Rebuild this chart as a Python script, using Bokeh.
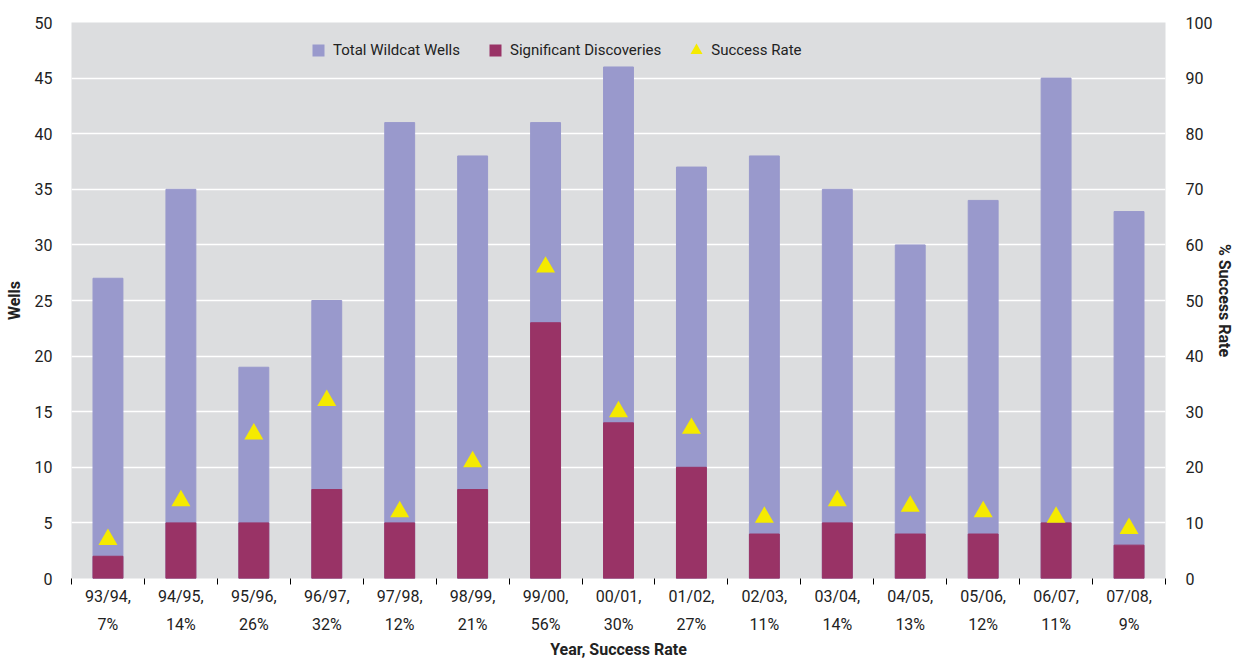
from bokeh.plotting import figure
from bokeh.models import Range1d, LinearAxis, FixedTicker, ColumnDataSource, Legend, LegendItem
from bokeh.embed import file_html
from bokeh.resources import INLINE

years = ["93/94", "94/95", "95/96", "96/97", "97/98", "98/99", "99/00", "00/01",
         "01/02", "02/03", "03/04", "04/05", "05/06", "06/07", "07/08"]
rate_labels = ["7%", "14%", "26%", "32%", "12%", "21%", "56%", "30%",
               "27%", "11%", "14%", "13%", "12%", "11%", "9%"]
total_wells = [27, 35, 19, 25, 41, 38, 41, 46, 37, 38, 35, 30, 34, 45, 33]
discoveries = [2, 5, 5, 8, 5, 8, 23, 14, 10, 4, 5, 4, 4, 5, 3]
success_rate = [7, 14, 26, 32, 12, 21, 56, 30, 27, 11, 14, 13, 12, 11, 9]

FONT = "Roboto"
C_TOTAL = "#9999CC"
C_DISC = "#993366"
C_RATE = "#F5EA00"
C_TEXT = "#222222"

xs = [i + 0.5 for i in range(len(years))]
src = ColumnDataSource(dict(x=xs, total=total_wells, disc=discoveries,
                            rate_y=[r / 2 for r in success_rate]))

p = figure(width=1237, height=662, output_backend="svg", toolbar_location=None,
           x_range=Range1d(0, len(years)), y_range=Range1d(0, 50))
p.min_border_left = 71
p.min_border_right = 72
p.min_border_top = 22
p.min_border_bottom = 82
p.background_fill_color = "#DCDDDF"
p.outline_line_color = None
p.extra_y_ranges = {"rate": Range1d(0, 100)}

p.vbar(x="x", top="total", width=0.41, source=src, color=C_TOTAL)
p.vbar(x="x", top="disc", width=0.41, source=src, color=C_DISC)
p.scatter(x="x", y="rate_y", source=src, marker="triangle", size=19,
          color=C_RATE, line_color=None)

# legend-only renderers (a single NaN point) so legend glyphs are sized like the reference
nan = float("nan")
l1 = p.scatter(x=[nan], y=[nan], marker="square", color=C_TOTAL, line_color=None)
l2 = p.scatter(x=[nan], y=[nan], marker="square", color=C_DISC, line_color=None)
l3 = p.scatter(x=[nan], y=[nan], marker="triangle", color=C_RATE, line_color=None)

p.xgrid.grid_line_color = None
p.ygrid.grid_line_color = "white"
p.ygrid.grid_line_width = 1.5
p.ygrid.ticker = FixedTicker(ticks=list(range(0, 51, 5)))

xa = p.xaxis[0]
xa.ticker = FixedTicker(ticks=xs, minor_ticks=list(range(0, len(years) + 1)))
xa.major_label_overrides = {x: f"{y},\n{r}" for x, y, r in zip(xs, years, rate_labels)}
xa.major_tick_line_color = None
xa.minor_tick_line_color = "black"
xa.minor_tick_out = 6
xa.minor_tick_in = 0
xa.axis_line_color = None
xa.major_label_text_font = FONT
xa.major_label_text_font_size = "16px"
xa.major_label_text_line_height = 1.5
xa.major_label_text_color = C_TEXT
xa.major_label_standoff = 2
xa.axis_label = "Year, Success Rate"
xa.axis_label_text_font = FONT
xa.axis_label_text_font_style = "bold"
xa.axis_label_text_font_size = "16px"
xa.axis_label_text_color = C_TEXT
xa.axis_label_standoff = 3

ya = p.yaxis[0]
ya.ticker = FixedTicker(ticks=list(range(0, 51, 5)))
ya.axis_line_color = None
ya.major_tick_line_color = None
ya.minor_tick_line_color = None
ya.major_label_text_font = FONT
ya.major_label_text_font_size = "16px"
ya.major_label_text_color = C_TEXT
ya.major_label_standoff = 13
ya.axis_label = "Wells"
ya.axis_label_text_font = FONT
ya.axis_label_text_font_style = "bold"
ya.axis_label_text_font_size = "16px"
ya.axis_label_text_color = C_TEXT
ya.axis_label_standoff = 8

ra = LinearAxis(y_range_name="rate", ticker=FixedTicker(ticks=list(range(0, 101, 10))))
ra.axis_line_color = None
ra.major_tick_line_color = None
ra.minor_tick_line_color = None
ra.major_label_text_font = FONT
ra.major_label_text_font_size = "16px"
ra.major_label_text_color = C_TEXT
ra.major_label_standoff = 14
ra.axis_label = "% Success Rate"
ra.axis_label_text_font = FONT
ra.axis_label_text_font_style = "bold"
ra.axis_label_text_font_size = "16px"
ra.axis_label_text_color = C_TEXT
ra.axis_label_standoff = 0
p.add_layout(ra, "right")

legend = Legend(items=[LegendItem(label="Total Wildcat Wells", renderers=[l1]),
                       LegendItem(label="Significant Discoveries", renderers=[l2]),
                       LegendItem(label="Success Rate", renderers=[l3])],
                orientation="horizontal", location=(232, 513),
                background_fill_alpha=0, border_line_color=None,
                label_text_font=FONT, label_text_font_size="15px",
                label_text_color=C_TEXT, spacing=20, glyph_width=30, glyph_height=30,
                label_standoff=0, margin=0, padding=10)
p.add_layout(legend, "center")

open("out.html", "w").write(file_html(p, INLINE))
